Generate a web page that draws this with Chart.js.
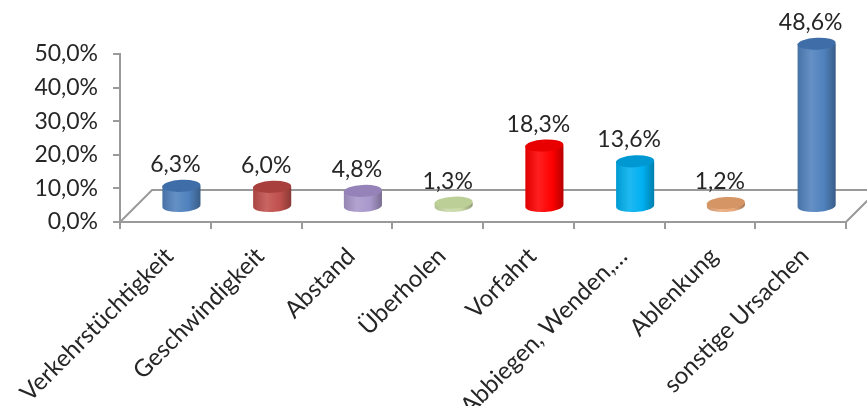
<!DOCTYPE html>
<html><head><meta charset="utf-8">
<script src="https://cdn.jsdelivr.net/npm/chart.js@4.4.0/dist/chart.umd.min.js"></script>
<style>html,body{margin:0;padding:0;background:#fff}#wrap{width:867px;height:406px;position:relative}</style>
</head><body><div id="wrap"><canvas id="c"></canvas></div>
<script>
const categories = ['Verkehrstüchtigkeit', 'Geschwindigkeit', 'Abstand', 'Überholen', 'Vorfahrt', 'Abbiegen, Wenden,…', 'Ablenkung', 'sonstige Ursachen'];
const values = [6.3, 6.0, 4.8, 1.3, 18.3, 13.6, 1.2, 48.6];
const yTicks = [0, 10, 20, 30, 40, 50];
const bodyColors = ['#4F81BD', '#C0504D', '#A897CB', '#C9D9A5', '#FF0000', '#00B0F0', '#E8A878', '#4F81BD'];
const topColors = ['#3E6DA8', '#A8403D', '#9482B8', '#BCCF96', '#E80000', '#0098D2', '#D69564', '#3E6DA8'];

const FONT = 'Lato, "Open Sans", sans-serif';
const AXIS = '#9a9a9a';
const DEPTH = 32;

function hexToRgb(h){h=h.replace('#','');return [parseInt(h.substr(0,2),16),parseInt(h.substr(2,2),16),parseInt(h.substr(4,2),16)];}
function mix(h, t){const c=hexToRgb(h);const f=t<0?0:255;const a=Math.abs(t);return 'rgb('+c.map(v=>Math.round(v+(f-v)*a)).join(',')+')';}

const floorPlugin = {
  id: 'floor',
  beforeDatasetsDraw(chart){
    const {ctx, chartArea:a} = chart;
    ctx.save();
    ctx.strokeStyle = AXIS; ctx.lineWidth = 2;
    ctx.beginPath();
    ctx.moveTo(a.left, a.bottom); ctx.lineTo(a.left+DEPTH, a.bottom-DEPTH);
    ctx.lineTo(a.right+DEPTH, a.bottom-DEPTH);
    ctx.moveTo(a.right, a.bottom); ctx.lineTo(a.right+DEPTH, a.bottom-DEPTH);
    ctx.stroke();
    ctx.restore();
  }
};

const cylPlugin = {
  id: 'cyl',
  afterDatasetsDraw(chart){
    const {ctx} = chart;
    const meta = chart.getDatasetMeta(0);
    const off = DEPTH/2;
    ctx.save();
    meta.data.forEach((bar, i) => {
      const p = bar.getProps(['x','y','base','width'], true);
      const cx = p.x + off, rx = p.width/2, ry = 6;
      const topY = p.y - off + 1, baseY = p.base - off + 1;
      const rot = -0.05;
      const g = ctx.createLinearGradient(cx-rx, 0, cx+rx, 0);
      const col = bodyColors[i];
      g.addColorStop(0, mix(col, -0.12));
      g.addColorStop(0.35, mix(col, 0.12));
      g.addColorStop(0.7, col);
      g.addColorStop(1, mix(col, -0.28));
      ctx.beginPath();
      ctx.moveTo(cx+rx, topY);
      ctx.lineTo(cx+rx, baseY);
      ctx.ellipse(cx, baseY, rx, ry, rot, 0, Math.PI, false);
      ctx.lineTo(cx-rx, topY);
      ctx.closePath();
      ctx.fillStyle = g; ctx.fill();
      ctx.beginPath();
      ctx.ellipse(cx, topY, rx, ry, rot, 0, Math.PI*2);
      ctx.fillStyle = topColors[i]; ctx.fill();
      // label
      ctx.fillStyle = '#262626';
      ctx.font = '23px ' + FONT;
      ctx.textAlign = 'center'; ctx.textBaseline = 'alphabetic';
      ctx.fillText(values[i].toFixed(1).replace('.', ',') + '%', cx - 6, topY - ry - 8);
    });
    ctx.restore();
  }
};

new Chart(document.getElementById('c'), {
  type: 'bar',
  data: { labels: categories, datasets: [{ data: values, backgroundColor: 'rgba(0,0,0,0)', borderWidth: 0, categoryPercentage: 1, barPercentage: 0.42 }] },
  options: {
    responsive: true, maintainAspectRatio: false, animation: false,
    layout: { padding: { top: 54, right: 21, left: 0, bottom: 0 } },
    plugins: { legend: { display: false }, tooltip: { enabled: false } },
    scales: {
      x: {
        grid: { drawOnChartArea: false, drawTicks: true, tickLength: 7, color: AXIS, lineWidth: 2 },
        border: { display: true, color: AXIS, width: 2 },
        ticks: { maxRotation: 45, minRotation: 45, autoSkip: false, font: { family: FONT, size: 24 }, color: '#262626', padding: 13, labelOffset: 4 },
        afterFit(s){ s.height = 184; }
      },
      y: {
        min: yTicks[0], max: yTicks[yTicks.length-1],
        afterBuildTicks(s){ s.ticks = yTicks.map(v => ({ value: v })); },
        grid: { drawOnChartArea: false, drawTicks: true, tickLength: 7, color: AXIS, lineWidth: 2 },
        border: { display: true, color: AXIS, width: 2 },
        ticks: { font: { family: FONT, size: 23 }, color: '#262626', padding: 15, callback: v => v.toFixed(1).replace('.', ',') + '%' },
        afterFit(s){ s.width = 120; }
      }
    }
  },
  plugins: [floorPlugin, cylPlugin]
});
</script></body></html>
